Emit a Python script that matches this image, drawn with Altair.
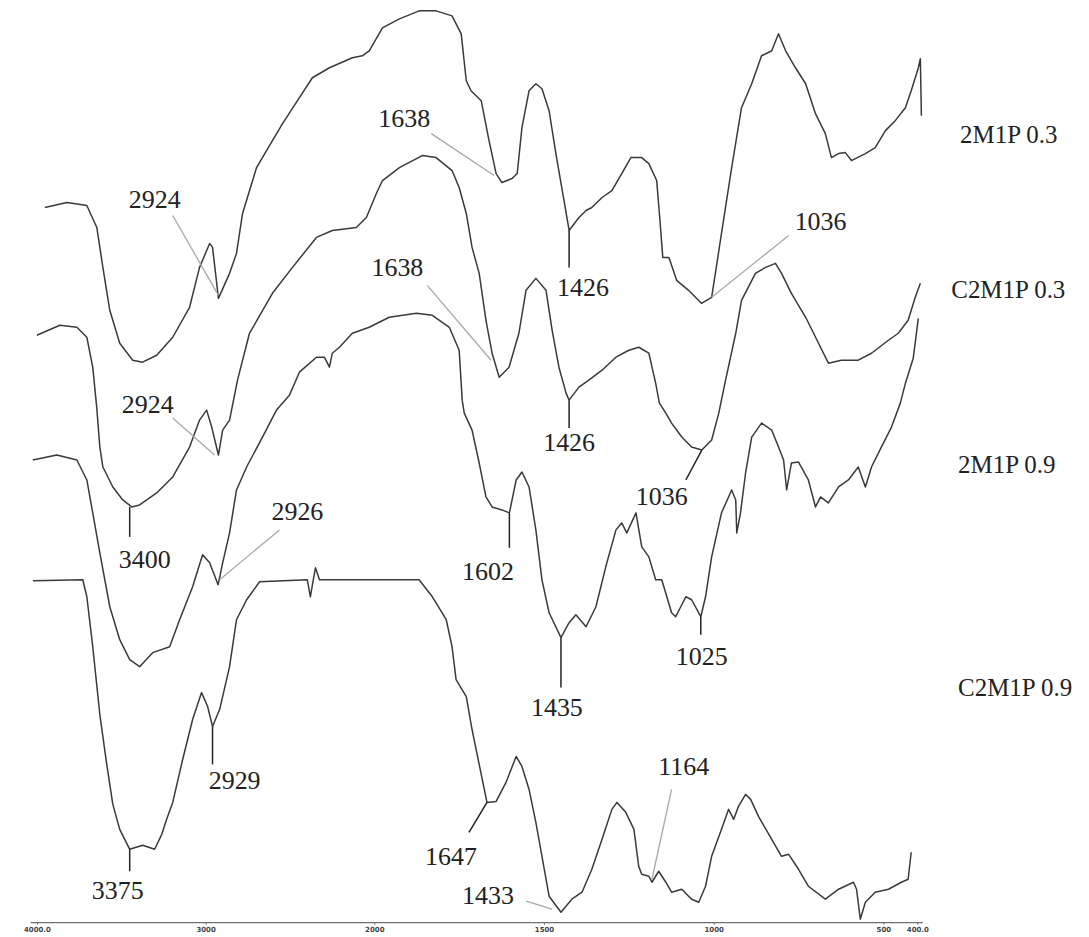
import altair as alt
import pandas as pd

# ---------------- spectra (wavenumber cm-1, offset transmittance a.u.) ----------------
S1_WN = [3953, 3822, 3704, 3645, 3609, 3568, 3509, 3432, 3373, 3290, 3195, 3095, 3036, 2976, 2959,
         2941, 2924, 2858, 2817, 2781, 2698, 2604, 2544, 2444, 2367, 2266, 2130, 2071, 2030, 1976,
         1926, 1868, 1818, 1771, 1744, 1729, 1715, 1685, 1662, 1641, 1624, 1594, 1579, 1565, 1544,
         1524, 1506, 1485, 1465, 1441, 1426, 1397, 1376, 1359, 1329, 1300, 1271, 1244, 1212, 1191,
         1168, 1159, 1150, 1132, 1109, 1074, 1036, 1006, 977, 947, 918, 888, 859, 829, 809,
         788, 759, 729, 700, 671, 653, 632, 612, 594, 553, 524, 494, 465, 435, 418,
         406, 397, 391, 388]
S1_T = [71.6, 72.1, 71.8, 69.6, 65.6, 61.3, 58.0, 56.3, 56.1, 56.8, 58.6, 61.6, 65.6, 68.0, 67.6,
        65.0, 62.5, 65.0, 67.0, 71.0, 75.6, 78.3, 80.0, 82.6, 84.6, 85.6, 86.6, 86.8, 87.3, 89.6,
        90.5, 91.3, 91.3, 90.8, 89.0, 84.3, 83.3, 82.3, 78.3, 75.0, 74.1, 74.5, 75.0, 79.6, 83.3,
        84.0, 83.5, 81.3, 77.0, 72.3, 69.3, 70.6, 71.3, 71.6, 72.6, 73.3, 75.0, 76.6, 76.6, 76.0,
        74.3, 70.6, 66.6, 66.6, 64.3, 63.3, 62.0, 62.6, 69.0, 75.6, 81.6, 84.0, 86.8, 87.3, 89.0,
        87.3, 85.6, 84.0, 81.0, 79.0, 76.6, 77.0, 77.1, 76.3, 77.0, 77.6, 79.3, 80.3, 81.6, 83.3,
        84.6, 85.6, 86.5, 80.8]

S2_WN = [4000, 3864, 3763, 3704, 3669, 3645, 3627, 3609, 3550, 3491, 3438, 3391, 3290, 3195, 3095,
         3036, 2994, 2964, 2924, 2899, 2858, 2811, 2740, 2604, 2485, 2343, 2249, 2107, 2047, 1994,
         1976, 1926, 1859, 1818, 1771, 1750, 1729, 1712, 1691, 1671, 1653, 1632, 1603, 1574, 1553,
         1524, 1494, 1476, 1456, 1435, 1426, 1397, 1368, 1329, 1288, 1250, 1221, 1191, 1171, 1160,
         1141, 1124, 1094, 1065, 1035, 1006, 985, 965, 935, 918, 877, 847, 818, 800, 771,
         729, 691, 662, 624, 574, 535, 485, 456, 427, 406, 391]
S2_T = [58.8, 59.8, 59.6, 58.6, 55.6, 51.5, 47.6, 45.6, 43.6, 42.3, 41.6, 41.8, 43.0, 44.6, 47.6,
        50.3, 51.3, 49.6, 46.8, 49.3, 50.3, 54.3, 59.0, 63.0, 65.6, 68.6, 69.3, 69.6, 70.6, 73.0,
        74.3, 75.6, 76.8, 76.6, 75.3, 73.6, 71.0, 67.6, 65.0, 60.3, 57.0, 54.6, 55.6, 59.0, 63.3,
        64.5, 63.3, 59.3, 55.6, 53.0, 52.3, 53.6, 54.3, 55.3, 56.6, 57.3, 57.6, 57.0, 54.0, 52.0,
        51.0, 50.0, 48.6, 47.6, 47.3, 48.3, 51.0, 54.3, 59.0, 62.3, 65.0, 65.6, 66.0, 65.0, 63.0,
        60.6, 58.0, 56.0, 56.3, 56.3, 57.0, 58.3, 59.0, 60.3, 62.6, 64.0]

S3_WN = [4024, 3882, 3763, 3704, 3669, 3627, 3568, 3509, 3450, 3391, 3314, 3213, 3154, 3077, 3018,
         2976, 2926, 2899, 2858, 2817, 2757, 2663, 2580, 2503, 2444, 2343, 2296, 2266, 2249, 2207,
         2130, 2030, 1956, 1876, 1829, 1779, 1750, 1741, 1735, 1712, 1691, 1671, 1653, 1624, 1602,
         1582, 1565, 1544, 1524, 1506, 1485, 1450, 1426, 1406, 1376, 1347, 1318, 1288, 1271, 1256,
         1229, 1212, 1191, 1171, 1153, 1124, 1112, 1082, 1065, 1038, 1024, 1006, 977, 947, 935,
         932, 921, 906, 888, 859, 829, 809, 794, 785, 771, 750, 721, 700, 685, 662,
         632, 603, 574, 553, 535, 506, 476, 450, 435, 412, 397]
S3_T = [46.3, 46.8, 46.3, 44.3, 41.0, 37.0, 31.6, 28.3, 26.3, 25.6, 27.0, 27.6, 30.3, 33.6, 36.8,
        36.0, 33.8, 36.0, 39.0, 43.3, 45.6, 48.6, 51.3, 52.8, 55.1, 56.6, 56.6, 55.6, 57.0, 57.6,
        59.0, 59.6, 60.6, 61.0, 60.8, 59.6, 57.3, 52.3, 51.0, 49.3, 46.0, 42.6, 41.6, 41.3, 41.0,
        44.3, 45.1, 43.6, 39.3, 34.3, 31.0, 28.5, 30.0, 30.8, 29.6, 31.6, 35.6, 39.3, 40.0, 39.0,
        41.0, 37.6, 36.6, 34.3, 34.3, 31.0, 30.6, 32.6, 32.3, 30.6, 32.6, 36.6, 41.0, 43.3, 42.3,
        39.0, 41.0, 45.0, 48.6, 50.0, 49.3, 47.6, 46.3, 43.3, 46.0, 46.1, 44.3, 41.6, 42.6, 42.0,
        43.6, 44.3, 45.6, 43.6, 45.6, 47.6, 49.6, 52.0, 54.0, 56.5, 60.5]

S4_WN = [4024, 3728, 3704, 3669, 3627, 3586, 3550, 3509, 3450, 3373, 3302, 3260, 3231, 3195, 3136,
         3077, 3024, 2988, 2959, 2917, 2858, 2817, 2757, 2680, 2397, 2379, 2367, 2349, 2325, 1868,
         1829, 1788, 1771, 1759, 1729, 1712, 1691, 1668, 1641, 1612, 1582, 1565, 1544, 1524, 1506,
         1485, 1450, 1418, 1388, 1359, 1329, 1300, 1285, 1259, 1235, 1221, 1212, 1191, 1182, 1162,
         1141, 1124, 1094, 1065, 1044, 1024, 1006, 977, 956, 941, 927, 906, 891, 868, 829,
         800, 779, 750, 721, 671, 632, 588, 579, 568, 553, 524, 485, 447, 427, 418]
S4_T = [34.2, 34.3, 32.6, 27.6, 20.8, 15.8, 11.8, 9.3, 7.3, 7.7, 7.3, 8.8, 10.3, 12.0, 16.3,
        20.3, 23.0, 21.6, 19.6, 21.3, 25.6, 30.3, 32.3, 34.1, 34.3, 32.6, 33.8, 35.5, 34.3, 34.3,
        32.6, 30.3, 27.6, 24.3, 22.6, 19.3, 15.8, 12.0, 12.1, 14.0, 16.6, 15.6, 13.3, 10.0, 6.6,
        2.6, 1.0, 2.3, 3.0, 5.3, 8.3, 11.3, 12.0, 11.0, 9.3, 5.6, 4.8, 4.6, 4.0, 5.1,
        4.0, 3.0, 3.3, 2.3, 2.0, 3.6, 6.6, 9.3, 11.3, 10.3, 11.6, 12.8, 12.3, 10.6, 8.3,
        6.6, 6.8, 5.3, 3.6, 2.3, 3.3, 4.0, 3.3, 0.3, 2.0, 3.0, 3.3, 4.0, 4.3, 7.0]

SERIES = ["2M1P 0.3", "C2M1P 0.3", "2M1P 0.9", "C2M1P 0.9"]

# ---------------- annotations ----------------
PEAK_TEXT = ["2924", "1638", "1426", "1036",
             "2924", "1638", "1426", "1036",
             "3400", "2926", "1602", "1435", "1025",
             "3375", "2929", "1647", "1433", "1164"]
PEAK_TEXT_WN = [3302, 1912, 1385, 685,
                3343, 1932, 1426, 1153,
                3361, 2456, 1665, 1462, 1035,
                3521, 2828, 1774, 1665, 1088]
PEAK_TEXT_T = [72.3, 80.5, 63.5, 70.1,
               51.8, 65.5, 48.0, 42.6,
               36.3, 41.1, 35.1, 21.5, 26.6,
               3.1, 14.1, 6.5, 2.6, 15.5]

# light-grey slanted leaders: (from wn, from T, to wn, to T)
GREY_WN1 = [3195, 1832, 779, 3195, 1844, 2562, 1553, 1124]
GREY_T1 = [70.8, 79.0, 68.8, 50.5, 63.8, 39.3, 2.1, 13.3]
GREY_WN2 = [2924, 1647, 1006, 2947, 1656, 2917, 1476, 1182]
GREY_T2 = [62.8, 74.8, 62.6, 46.8, 56.3, 34.3, 1.3, 4.3]

# black leaders / ticks
BLACK_WN1 = [1426, 1426, 1035, 3450, 1602, 1450, 1038, 3450, 2959, 1721]
BLACK_T1 = [69.3, 52.3, 47.3, 41.6, 41.0, 28.5, 30.6, 7.3, 19.6, 9.0]
BLACK_WN2 = [1426, 1426, 1082, 3450, 1602, 1450, 1038, 3450, 2959, 1668]
BLACK_T2 = [65.6, 49.5, 44.3, 38.6, 37.5, 23.5, 28.8, 5.1, 15.8, 12.0]

SERIES_LABEL_WN = [274, 300, 280, 280]
SERIES_LABEL_T = [78.9, 63.3, 45.8, 23.5]

AXIS_TICKS = [4000, 3000, 2000, 1500, 1000, 500, 400]

# ---------------- tables ----------------
rows = []
for name, wns, ts in zip(SERIES, [S1_WN, S2_WN, S3_WN, S4_WN], [S1_T, S2_T, S3_T, S4_T]):
    for i, (w, t) in enumerate(zip(wns, ts)):
        rows.append({"series": name, "wn": w, "T": t, "idx": i})
spec_df = pd.DataFrame(rows)

peak_df = pd.DataFrame({"label": PEAK_TEXT, "wn": PEAK_TEXT_WN, "T": PEAK_TEXT_T})
grey_df = pd.DataFrame({"wn": GREY_WN1, "T": GREY_T1, "wn2": GREY_WN2, "T2": GREY_T2})
black_df = pd.DataFrame({"wn": BLACK_WN1, "T": BLACK_T1, "wn2": BLACK_WN2, "T2": BLACK_T2})
name_df = pd.DataFrame({"label": SERIES, "wn": SERIES_LABEL_WN, "T": SERIES_LABEL_T})

# ---------------- scales ----------------
xscale = alt.Scale(domain=[4040, 2000, 385], range=[22.2, 367, 916.1], nice=False, zero=False)
yscale = alt.Scale(domain=[0, 91.5], nice=False, zero=False)

label_expr = ("datum.value == 4000 ? '4000.0' : (datum.value == 400 ? '400.0' : "
              "format(datum.value, 'd'))")
xaxis = alt.Axis(values=AXIS_TICKS, labelExpr=label_expr, title=None, grid=False,
                 tickSize=2, tickColor="#666", domainColor="#707070", domainWidth=1.3,
                 labelFontSize=7, labelFont="DejaVu Sans", labelFontWeight="bold",
                 labelColor="#444", labelPadding=1, labelOverlap=False, labelFlush=False)

X = alt.X("wn:Q", scale=xscale, axis=xaxis)
Y = alt.Y("T:Q", scale=yscale, axis=None)

FONT = "Liberation Serif"

lines = alt.Chart(spec_df).mark_line(color="#3a3a3a", strokeWidth=1.5, strokeJoin="round").encode(
    x=X, y=Y, detail="series:N", order="idx:Q")

grey = alt.Chart(grey_df).mark_rule(color="#a8a8a8", strokeWidth=1.3).encode(
    x=X, y=Y, x2="wn2:Q", y2="T2:Q")

black = alt.Chart(black_df).mark_rule(color="#222222", strokeWidth=1.5).encode(
    x=X, y=Y, x2="wn2:Q", y2="T2:Q")

peaks = alt.Chart(peak_df).mark_text(font=FONT, fontSize=26, color="#222222",
                                     align="center", baseline="middle").encode(
    x=X, y=Y, text="label:N")

names = alt.Chart(name_df).mark_text(font=FONT, fontSize=25, color="#222222",
                                     align="left", baseline="middle").encode(
    x=X, y=Y, text="label:N")

chart = alt.layer(lines, grey, black, peaks, names).properties(
    width=1075, height=915,
    autosize=alt.AutoSizeParams(type="none"),
    padding={"left": 0, "right": 0, "top": 0, "bottom": 12},
    background="white",
).configure_view(stroke=None)

chart.save("out.html", embed_options={"renderer": "svg", "actions": False})
